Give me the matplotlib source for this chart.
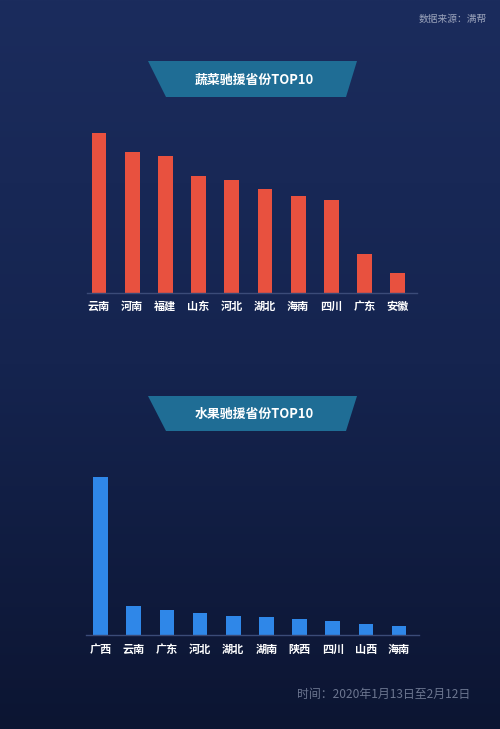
import numpy as np
import matplotlib
matplotlib.use("Agg")
import matplotlib.pyplot as plt
from matplotlib.patches import Polygon

plt.rcParams['font.family'] = ['Noto Sans CJK SC', 'DejaVu Sans']

# ---- data ----
veg_provinces = ['云南', '河南', '福建', '山东', '河北', '湖北', '海南', '四川', '广东', '安徽']
veg_values = [160, 141, 137, 117, 113, 104, 97, 93, 39, 20]
fruit_provinces = ['广西', '云南', '广东', '河北', '湖北', '湖南', '陕西', '四川', '山西', '海南']
fruit_values = [158, 29, 25, 22, 19, 18, 16, 14, 11, 9]
veg_title = '蔬菜驰援省份TOP10'
fruit_title = '水果驰援省份TOP10'
source_text = '数据来源：满帮'
time_text = '时间：2020年1月13日至2月12日'

W, H = 500, 729
fig = plt.figure(figsize=(W / 100, H / 100), dpi=100)

# ---- background gradient ----
bg = fig.add_axes([0, 0, 1, 1])
bg.set_xlim(0, W)
bg.set_ylim(H, 0)
bg.axis('off')
top_c = np.array([0x1b, 0x2c, 0x5d]) / 255
mid_c = np.array([0x15, 0x24, 0x4f]) / 255
bot_c = np.array([0x0c, 0x15, 0x32]) / 255
t = np.linspace(0, 1, 400)[:, None]
grad = np.where(t < 0.5,
                top_c + (mid_c - top_c) * (t / 0.5),
                mid_c + (bot_c - mid_c) * ((t - 0.5) / 0.5))
img = np.repeat(grad[:, None, :], 2, axis=1)
bg.imshow(img, extent=[0, W, H, 0], aspect='auto', interpolation='bilinear', zorder=0)


def banner(y0, y1, text):
    poly = Polygon([[148, y0], [357, y0], [346, y1], [166, y1]], closed=True,
                   facecolor='#1f6d95', edgecolor='none', zorder=2)
    bg.add_patch(poly)
    bg.text(254, (y0 + y1) / 2 + 0.5, text, color='white', fontsize=9.3,
            fontweight='bold', ha='center', va='center', zorder=3)


banner(61, 97, veg_title)
banner(396, 431, fruit_title)

bg.text(487, 19, source_text, color='#9aa3bb', fontsize=7, ha='right', va='center')
bg.text(297, 694, time_text, color='#6c7690', fontsize=8.6, ha='left', va='center')


def bar_axes(left_px, right_px, base_px, height_px, cats, vals, color, xlim, width, pad):
    ax = fig.add_axes([left_px / W, 1 - base_px / H, (right_px - left_px) / W, height_px / H])
    ax.set_facecolor('none')
    x = np.arange(len(cats))
    ax.bar(x, vals, width=width, color=color, zorder=2)
    ax.set_xlim(*xlim)
    ax.set_ylim(0, height_px)
    for s in ['top', 'right', 'left']:
        ax.spines[s].set_visible(False)
    ax.spines['bottom'].set_color('#3b4b78')
    ax.spines['bottom'].set_linewidth(1.0)
    ax.set_yticks([])
    ax.set_xticks(x)
    ax.set_xticklabels(cats, color='white', fontsize=8, fontweight='bold', va='baseline')
    ax.tick_params(axis='x', length=0, pad=pad)
    return ax


bar_axes(86.7, 416.7, 293, 170, veg_provinces, veg_values, '#e8513f',
         (-0.37, 9.57), 0.45, 12.2)
bar_axes(86, 419, 635, 170, fruit_provinces, fruit_values, '#2f87e8',
         (-0.44, 9.6), 0.44, 12.8)

fig.savefig('out.png', dpi=100)
